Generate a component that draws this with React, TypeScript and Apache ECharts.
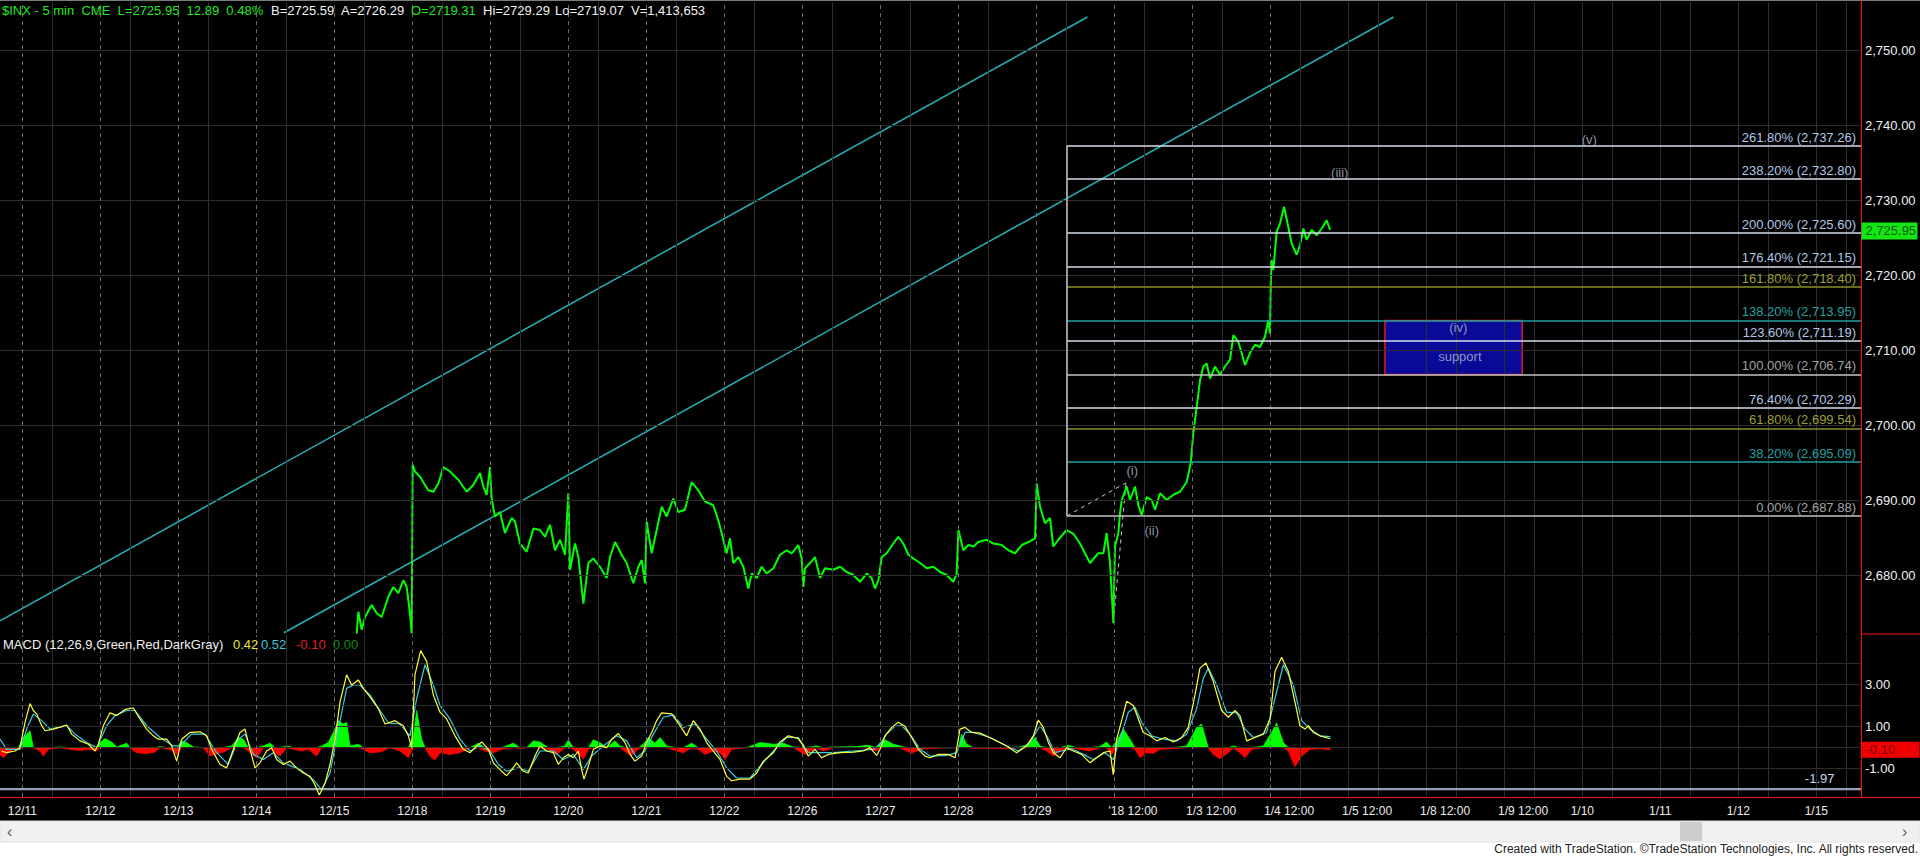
import React, { useEffect, useRef } from "react";
import * as echarts from "echarts";

const FONT = '"Liberation Sans", Arial, sans-serif';

// ---- axes ----
const X_MIN = -0.286;
const X_MAX = 23.573;
const PRICE_MIN = 2672.27;
const PRICE_MAX = 2756.4;
const MACD_MIN = -2.34;
const MACD_MAX = 5.34;

const PRICE_TICKS = [2680, 2690, 2700, 2710, 2720, 2730, 2740, 2750];
const MACD_TICKS = [3, 1, -1];
const MACD_GRID = [-2, -1, 0, 1, 2, 3, 4];
const MACD_FLOOR = -1.97;

const SESSION_STARTS = [0, 1, 2, 3, 4, 5, 6, 7, 8, 9, 10, 11, 12, 13, 14, 15, 16, 17, 18, 19, 20, 21, 22, 23];
const LAST_DATA_SESSION = 16;
const NOON = 0.385;

const DATE_TICK_POS = [0, 1, 2, 3, 4, 5, 6, 7, 8, 9, 10, 11, 12, 13, 14.24, 15.24, 16.24, 17.24, 18.24, 19.24, 20, 21, 22, 23];
const DATE_TICK_TEXT = ["12/11", "12/12", "12/13", "12/14", "12/15", "12/18", "12/19", "12/20", "12/21", "12/22", "12/26", "12/27", "12/28", "12/29", "'18 12:00", "1/3 12:00", "1/4 12:00", "1/5 12:00", "1/8 12:00", "1/9 12:00", "1/10", "1/11", "1/12", "1/15"];

// ---- price (x = trading-session index, y = price) ----
const PRICE_SERIES: [number, number][] = [
  [4.287, 2672.2], [4.308, 2675.1], [4.351, 2672.7], [4.394, 2674.4], [4.479, 2676.0], [4.543, 2674.9], [4.607, 2674.4], [4.693, 2677.1], [4.757, 2678.4], [4.821, 2677.6], [4.885, 2679.3], [4.928, 2678.4], [4.970, 2674.9], [4.992, 2672.2],
  [5.005, 2694.7], [5.035, 2693.8], [5.099, 2693.1], [5.163, 2692.0], [5.205, 2691.3], [5.270, 2691.1], [5.334, 2692.2], [5.398, 2694.4], [5.483, 2693.8], [5.590, 2692.7], [5.697, 2691.1], [5.782, 2692.0], [5.868, 2693.6], [5.911, 2691.8], [5.953, 2690.7], [5.996, 2694.4],
  [6.017, 2690.2], [6.060, 2687.8], [6.124, 2688.4], [6.188, 2685.6], [6.274, 2687.6], [6.317, 2687.1], [6.381, 2684.2], [6.466, 2683.1], [6.552, 2686.2], [6.637, 2686.0], [6.701, 2685.1], [6.765, 2686.7], [6.830, 2683.3], [6.894, 2684.7], [6.958, 2682.7],
  [7.000, 2690.9], [7.022, 2680.7], [7.086, 2684.2], [7.129, 2682.4], [7.193, 2676.2], [7.257, 2681.6], [7.321, 2682.2], [7.406, 2681.1], [7.492, 2679.6], [7.535, 2682.4], [7.599, 2684.4], [7.684, 2682.7], [7.748, 2681.6], [7.834, 2678.9], [7.898, 2681.1], [7.941, 2682.0], [7.983, 2678.9],
  [8.005, 2687.1], [8.069, 2682.9], [8.133, 2686.0], [8.197, 2689.1], [8.261, 2687.8], [8.346, 2690.2], [8.410, 2688.4], [8.496, 2688.7], [8.581, 2692.4], [8.667, 2691.3], [8.752, 2689.8], [8.859, 2689.3], [8.923, 2687.3], [8.987, 2684.7],
  [9.030, 2682.9], [9.073, 2684.9], [9.116, 2681.6], [9.180, 2682.4], [9.244, 2681.1], [9.308, 2678.2], [9.351, 2680.2], [9.415, 2679.6], [9.479, 2681.1], [9.543, 2680.2], [9.629, 2680.9], [9.714, 2682.7], [9.800, 2683.3], [9.864, 2682.9], [9.949, 2684.0], [9.992, 2682.2],
  [10.013, 2678.4], [10.035, 2680.9], [10.099, 2681.6], [10.163, 2682.4], [10.227, 2679.6], [10.291, 2680.9], [10.398, 2680.7], [10.484, 2681.1], [10.569, 2680.4], [10.654, 2680.0], [10.740, 2679.1], [10.825, 2680.2], [10.889, 2679.6], [10.932, 2678.2], [10.975, 2679.3],
  [11.018, 2682.4], [11.082, 2682.9], [11.167, 2684.2], [11.231, 2685.1], [11.295, 2684.2], [11.360, 2682.7], [11.424, 2682.2], [11.509, 2681.6], [11.595, 2680.9], [11.680, 2681.1], [11.766, 2680.4], [11.851, 2680.0], [11.937, 2679.1], [11.979, 2680.2],
  [12.001, 2686.0], [12.065, 2683.3], [12.129, 2684.0], [12.193, 2683.8], [12.257, 2684.4], [12.364, 2684.7], [12.449, 2684.2], [12.556, 2684.0], [12.642, 2683.3], [12.727, 2682.9], [12.813, 2684.0], [12.898, 2684.4], [12.984, 2684.9],
  [13.005, 2692.2], [13.048, 2689.1], [13.112, 2686.9], [13.176, 2687.6], [13.218, 2683.8], [13.282, 2684.7], [13.389, 2686.0], [13.475, 2685.5], [13.560, 2684.2], [13.688, 2681.6], [13.795, 2682.9], [13.860, 2682.9], [13.902, 2685.6], [13.945, 2681.6], [13.988, 2673.6],
  [14.009, 2683.8], [14.052, 2685.6], [14.073, 2688.2], [14.095, 2690.0], [14.159, 2691.8], [14.201, 2690.0], [14.266, 2691.8], [14.308, 2689.3], [14.351, 2688.0], [14.415, 2690.4], [14.479, 2690.0], [14.522, 2688.7], [14.586, 2690.9], [14.672, 2690.0], [14.757, 2690.7], [14.843, 2691.1], [14.928, 2692.4], [14.979, 2694.9],
  [15.013, 2698.9], [15.056, 2702.4], [15.099, 2706.0], [15.142, 2707.8], [15.184, 2708.2], [15.227, 2706.2], [15.291, 2707.8], [15.355, 2706.7], [15.419, 2707.8], [15.484, 2708.7], [15.526, 2712.0], [15.590, 2711.1], [15.633, 2709.6], [15.676, 2708.0], [15.740, 2709.6], [15.804, 2710.7], [15.868, 2710.4], [15.932, 2711.8], [15.975, 2714.0], [15.996, 2712.2],
  [16.005, 2718.4], [16.017, 2722.0], [16.039, 2720.7], [16.082, 2725.8], [16.125, 2726.9], [16.176, 2729.1], [16.231, 2726.4], [16.274, 2724.2], [16.338, 2722.7], [16.381, 2724.0], [16.424, 2726.2], [16.466, 2724.7], [16.530, 2726.0], [16.595, 2725.3], [16.659, 2726.2], [16.723, 2727.3], [16.766, 2726.0], [16.770, 2725.95],
];

// ---- MACD (12,26,9) ----
const MACD_SERIES: [number, number][] = [
  [-0.265, -0.16], [-0.201, -0.24], [-0.094, -0.16], [-0.030, 0.0], [0.035, 1.2], [0.099, 2.09], [0.141, 1.76], [0.184, 1.6], [0.248, 1.04], [0.291, 0.8], [0.398, 0.88], [0.569, 1.07], [0.633, 0.64], [0.740, 0.32], [0.847, 0.16], [0.932, -0.16], [0.975, 0.16],
  [1.039, 1.04], [1.124, 1.65], [1.210, 1.52], [1.317, 1.81], [1.423, 1.88], [1.509, 1.36], [1.594, 0.88], [1.680, 0.56], [1.744, 0.4], [1.851, 0.4], [1.915, 0.08], [1.979, -0.64],
  [2.043, 0.4], [2.150, 0.72], [2.278, 0.75], [2.364, 0.56], [2.428, -0.08], [2.535, -0.8], [2.620, -0.96], [2.706, -0.08], [2.791, 0.72], [2.855, 0.88], [2.919, -0.08], [2.983, -0.96],
  [3.047, -0.72], [3.133, -0.16], [3.197, 0.0], [3.261, -0.56], [3.346, -0.8], [3.432, -0.64], [3.517, -0.96], [3.603, -1.2], [3.688, -1.36], [3.752, -1.76], [3.808, -2.24], [3.881, -1.68], [3.945, -0.8],
  [4.009, 0.4], [4.073, 2.16], [4.158, 3.45], [4.222, 2.97], [4.308, 3.21], [4.372, 2.81], [4.458, 2.41], [4.564, 1.85], [4.650, 1.12], [4.778, 1.28], [4.885, 1.04], [4.949, 0.56], [4.992, 0.0],
  [5.034, 3.45], [5.107, 4.6], [5.184, 4.09], [5.270, 2.49], [5.355, 1.68], [5.440, 1.36], [5.547, 0.56], [5.654, -0.08], [5.740, -0.24], [5.804, 0], [5.889, 0.27], [5.975, -0.08],
  [6.039, -0.72], [6.124, -1.04], [6.210, -1.33], [6.274, -1.04], [6.338, -0.72], [6.423, -1.12], [6.487, -1.2], [6.573, -0.4], [6.637, 0.08], [6.723, -0.16], [6.808, -0.24], [6.872, -0.8], [6.936, -0.48],
  [7.000, -0.32], [7.064, -0.48], [7.128, -0.16], [7.171, -1.04], [7.201, -1.49], [7.257, -0.88], [7.321, -0.08], [7.406, 0.08], [7.492, 0], [7.556, 0.4], [7.641, 0.67], [7.727, 0.24], [7.791, -0.32], [7.855, -0.64], [7.940, -0.4],
  [8.005, 0.24], [8.069, 0.72], [8.133, 1.28], [8.197, 1.65], [8.325, 1.6], [8.432, 1.04], [8.517, 0.56], [8.603, 1.28], [8.688, 0.88], [8.774, 0.24], [8.859, -0.16], [8.945, -0.56],
  [9.030, -1.36], [9.094, -1.57], [9.201, -1.49], [9.329, -1.49], [9.415, -1.2], [9.500, -0.64], [9.629, -0.24], [9.714, 0.27], [9.821, 0.56], [9.949, 0.43],
  [10.013, 0.08], [10.077, -0.4], [10.163, -0.08], [10.248, -0.48], [10.334, -0.32], [10.483, -0.24], [10.654, -0.21], [10.782, -0.16], [10.868, 0], [10.953, -0.37],
  [10.996, -0.08], [11.060, 0.56], [11.146, 0.96], [11.231, 1.2], [11.317, 1.01], [11.402, 0.48], [11.487, -0.08], [11.573, -0.4], [11.637, -0.48], [11.744, -0.32], [11.872, -0.32], [11.958, -0.48],
  [12.022, 0.88], [12.086, 0.96], [12.171, 0.72], [12.278, 0.69], [12.449, 0.4], [12.620, 0.08], [12.748, -0.24], [12.876, 0.08], [12.962, 0.56],
  [13.026, 1.31], [13.090, 0.96], [13.154, 0.24], [13.218, -0.24], [13.304, -0.48], [13.389, 0], [13.475, -0.16], [13.581, -0.32], [13.688, -0.72], [13.774, -0.48], [13.859, -0.24], [13.945, -0.16], [13.987, -1.28],
  [14.030, 0.4], [14.094, 1.28], [14.158, 2.2], [14.244, 2.0], [14.308, 1.36], [14.372, 0.72], [14.458, 0.56], [14.543, 0.32], [14.650, 0.48], [14.757, 0.27], [14.864, 0.48], [14.949, 0.96],
  [15.034, 2.49], [15.098, 3.77], [15.175, 4.01], [15.269, 3.13], [15.376, 1.76], [15.462, 1.44], [15.547, 1.76], [15.611, 1.52], [15.697, 0.32], [15.804, 0.48], [15.910, 0.64], [15.996, 1.36],
  [16.060, 3.61], [16.145, 4.28], [16.231, 3.61], [16.316, 2.16], [16.380, 1.04], [16.445, 0.88], [16.487, 1.04], [16.552, 0.72], [16.637, 0.56], [16.770, 0.42],
];

const SIGNAL_SERIES: [number, number][] = [
  [-0.286, 0.4], [-0.201, -0.08], [-0.030, -0.08], [0.056, 0.88], [0.141, 1.6], [0.248, 1.28], [0.355, 0.88], [0.569, 1.04], [0.676, 0.64], [0.825, 0.24], [0.953, 0.0],
  [1.082, 1.04], [1.188, 1.52], [1.338, 1.76], [1.445, 1.76], [1.594, 1.04], [1.765, 0.48], [1.936, 0.08],
  [2.022, 0.08], [2.171, 0.64], [2.342, 0.64], [2.492, -0.24], [2.641, -0.8], [2.770, 0.4], [2.855, 0.64], [2.962, -0.32],
  [3.090, -0.56], [3.218, -0.24], [3.346, -0.72], [3.560, -1.04], [3.731, -1.52], [3.838, -2.0], [3.945, -1.2],
  [4.052, 0.88], [4.158, 2.81], [4.244, 2.97], [4.329, 2.97], [4.458, 2.49], [4.586, 1.76], [4.693, 1.17], [4.842, 1.12], [4.970, 0.56],
  [5.056, 2.33], [5.163, 3.93], [5.270, 2.97], [5.355, 2.0], [5.483, 1.36], [5.611, 0.4], [5.740, -0.16], [5.868, 0.08], [5.996, -0.16],
  [6.103, -0.8], [6.210, -1.12], [6.359, -0.96], [6.487, -1.12], [6.637, -0.16], [6.808, -0.16], [6.936, -0.56],
  [7.064, -0.32], [7.193, -1.04], [7.299, -0.4], [7.449, 0.08], [7.620, 0.56], [7.748, 0.32], [7.876, -0.48], [7.983, -0.16],
  [8.090, 0.64], [8.218, 1.44], [8.347, 1.55], [8.475, 0.96], [8.624, 1.12], [8.774, 0.4], [8.902, -0.16],
  [9.030, -0.96], [9.158, -1.44], [9.329, -1.44], [9.479, -0.8], [9.629, -0.16], [9.799, 0.48], [9.949, 0.48],
  [10.077, -0.24], [10.227, -0.24], [10.397, -0.24], [10.654, -0.16], [10.911, -0.08],
  [10.996, 0.16], [11.081, 0.64], [11.188, 1.01], [11.274, 1.04], [11.381, 0.64], [11.509, -0.08], [11.637, -0.4], [11.851, -0.37], [11.979, -0.24],
  [12.086, 0.72], [12.193, 0.72], [12.406, 0.48], [12.620, 0.08], [12.769, -0.16], [12.919, 0.24],
  [13.047, 1.04], [13.133, 0.56], [13.240, -0.24], [13.325, -0.16], [13.453, -0.05], [13.603, -0.32], [13.731, -0.56], [13.880, -0.24], [13.987, -0.56],
  [14.073, 0.4], [14.180, 1.68], [14.265, 1.92], [14.351, 1.2], [14.479, 0.56], [14.629, 0.4], [14.800, 0.32], [14.928, 0.64],
  [15.056, 1.85], [15.141, 3.29], [15.205, 3.77], [15.312, 2.97], [15.440, 1.68], [15.569, 1.65], [15.676, 0.88], [15.782, 0.48], [15.953, 0.72],
  [16.060, 2.33], [16.167, 3.93], [16.295, 2.97], [16.402, 1.28], [16.509, 0.88], [16.637, 0.56], [16.770, 0.52],
];

const HIST_SERIES: [number, number][] = [
  [-0.286, -0.32], [-0.243, -0.48], [-0.158, -0.16], [-0.051, 0], [0.013, 0.48], [0.099, 0.8], [0.141, 0], [0.227, -0.16], [0.270, -0.4], [0.334, -0.08], [0.483, 0.03], [0.611, -0.08], [0.740, -0.13], [0.868, -0.08], [0.953, -0.16],
  [0.996, 0.24], [1.060, 0.43], [1.146, 0.27], [1.210, 0.03], [1.338, 0.21], [1.381, 0], [1.466, -0.24], [1.594, -0.29], [1.701, -0.21], [1.765, 0.05], [1.851, -0.05], [1.936, -0.16], [1.979, -0.32],
  [2.043, 0.32], [2.107, 0.24], [2.193, 0.03], [2.321, 0], [2.406, -0.4], [2.470, -0.32], [2.577, -0.21], [2.684, 0.08], [2.770, 0.48], [2.834, 0.4], [2.898, -0.16],
  [3.005, -0.48], [3.090, 0.08], [3.176, 0.21], [3.240, -0.24], [3.304, -0.4], [3.389, 0.08], [3.475, -0.08], [3.582, -0.16], [3.667, -0.08], [3.774, -0.4], [3.838, 0.08], [3.923, 0.24], [3.987, 0.72],
  [4.052, 1.28], [4.116, 1.12], [4.158, 1.2], [4.201, 0.08], [4.308, 0.16], [4.372, -0.08], [4.458, -0.24], [4.586, -0.21], [4.714, 0], [4.842, -0.16], [4.949, -0.48],
  [5.013, 0.56], [5.056, 1.76], [5.120, 0.4], [5.163, 0], [5.227, -0.4], [5.291, -0.59], [5.355, -0.24], [5.483, -0.32], [5.611, -0.24], [5.740, 0], [5.846, 0.21], [5.932, -0.16],
  [6.039, -0.24], [6.146, -0.08], [6.295, 0.21], [6.381, -0.05], [6.466, 0], [6.552, 0.32], [6.637, 0.27], [6.744, -0.08], [6.851, -0.32], [6.958, 0.08],
  [7.000, 0.37], [7.064, -0.08], [7.193, -0.53], [7.257, -0.08], [7.321, 0.37], [7.406, 0.24], [7.492, 0], [7.599, 0.32], [7.663, 0.08], [7.748, -0.24], [7.812, -0.37], [7.898, -0.08], [7.962, 0.16],
  [8.026, 0.48], [8.111, 0.21], [8.176, 0.48], [8.261, 0.08], [8.389, -0.16], [8.475, -0.24], [8.582, 0.21], [8.667, -0.08], [8.753, -0.32], [8.859, -0.16], [8.945, -0.24],
  [9.009, -0.56], [9.094, -0.08], [9.287, 0], [9.458, 0.24], [9.629, 0.16], [9.757, 0.21], [9.885, 0.03],
  [10.035, -0.32], [10.184, 0.08], [10.270, -0.16], [10.397, 0.03], [10.697, 0.05], [10.846, 0.11], [10.953, -0.16],
  [10.996, 0.24], [11.060, 0.37], [11.167, 0.16], [11.252, 0.08], [11.338, -0.16], [11.402, -0.27], [11.509, -0.08], [11.594, -0.05], [11.851, 0],
  [12.000, 0], [12.043, 0.64], [12.107, 0.16], [12.193, -0.03], [12.364, -0.03], [12.620, -0.05], [12.791, 0.03], [12.898, 0.16], [12.983, 0.48],
  [13.047, 0.08], [13.133, -0.16], [13.218, -0.4], [13.304, -0.16], [13.410, 0.11], [13.517, -0.05], [13.688, -0.16], [13.816, 0.05], [13.902, 0.27], [13.966, -0.32],
  [14.030, 0.32], [14.116, 0.88], [14.201, 0.4], [14.265, -0.08], [14.329, -0.48], [14.415, -0.24], [14.500, -0.27], [14.586, -0.08], [14.757, -0.05], [14.928, 0.08],
  [15.056, 0.96], [15.120, 1.12], [15.205, 0], [15.269, -0.32], [15.355, -0.53], [15.462, -0.24], [15.526, 0.08], [15.611, -0.24], [15.676, -0.48], [15.761, -0.08], [15.910, 0.08],
  [16.017, 0.72], [16.081, 1.17], [16.167, 0.24], [16.231, -0.16], [16.316, -0.91], [16.402, -0.4], [16.509, -0.08], [16.637, -0.05], [16.770, -0.10],
];

// ---- drawings ----
const CHANNEL_UPPER: [number, number][] = [[-0.286, 2673.9], [13.655, 2754.4]];
const CHANNEL_LOWER: [number, number][] = [[3.355, 2672.3], [17.58, 2754.4]];

const FIB_START = 13.394;
const FIB_PCT = [261.8, 238.2, 200, 176.4, 161.8, 138.2, 123.6, 100, 76.4, 61.8, 38.2, 0];
const FIB_PRICE = [2737.26, 2732.8, 2725.6, 2721.15, 2718.4, 2713.95, 2711.19, 2706.74, 2702.29, 2699.54, 2695.09, 2687.88];
const FIB_TONE = ["light", "light", "light", "light", "olive", "teal", "light", "grey", "light", "olive", "teal", "grey"];

const FIB_LEG_A: [number, number][] = [[13.988, 2673.6], [14.15, 2692.3]];
const FIB_LEG_C: [number, number][] = [[FIB_START, 2687.88], [14.15, 2692.3]];

const SUPPORT_X = [17.47, 19.23];
const SUPPORT_Y = [2713.95, 2706.74];

const WAVE_POS: [number, number][] = [[14.23, 2693.9], [14.48, 2685.9], [16.89, 2733.7], [18.41, 2713.0], [20.09, 2738.1], [18.43, 2709.1]];
const WAVE_TEXT = ["(i)", "(ii)", "(iii)", "(iv)", "(v)", "support"];

const HEADER = [
  { text: "$INX - 5 min  CME  L=2725.95  12.89  0.48%", x: 2, color: "#22e622" },
  { text: "B=2725.59", x: 271, color: "#f2f2f2" },
  { text: "A=2726.29", x: 341, color: "#f2f2f2" },
  { text: "O=2719.31", x: 411, color: "#22e622" },
  { text: "Hi=2729.29", x: 483, color: "#f2f2f2" },
  { text: "Lo=2719.07", x: 555, color: "#f2f2f2" },
  { text: "V=1,413,653", x: 631, color: "#f2f2f2" },
];

const TONES: Record<string, { line: string; text: string }> = {
  light: { line: "#d4dcec", text: "#b4c6e6" },
  olive: { line: "#8c8c2a", text: "#9e9e38" },
  teal: { line: "#20a0a0", text: "#24a0a0" },
  grey: { line: "#c4c4c4", text: "#a2a2a2" },
};

const fmt2 = (v: number) =>
  v.toLocaleString("en-US", { minimumFractionDigits: 2, maximumFractionDigits: 2 });

function gridLines(horizontal: number[]) {
  const data: any[] = [];
  horizontal.forEach((v) => data.push({ yAxis: v, lineStyle: { color: "#2e2e2e", width: 1, type: "solid" } }));
  SESSION_STARTS.forEach((d) => {
    data.push({ xAxis: d + NOON, lineStyle: { color: "#2e2e2e", width: 1, type: "solid" } });
    if (d <= LAST_DATA_SESSION) {
      data.push({ xAxis: d, lineStyle: { color: "#6a6a6a", width: 1, type: [4, 4] } });
    } else {
      data.push({ xAxis: d, lineStyle: { color: "#2e2e2e", width: 1, type: "solid" } });
    }
  });
  return data;
}

function buildOption(): any {
  const fibLines: any[] = FIB_PRICE.map((v, i) => {
    const tone = TONES[FIB_TONE[i]];
    return [
      {
        coord: [FIB_START, v],
        lineStyle: { color: tone.line, width: 1.5, type: "solid" },
        label: {
          show: true,
          position: "insideEndTop",
          distance: [5, 2],
          formatter: `${FIB_PCT[i].toFixed(2)}% (${fmt2(v)})`,
          color: tone.text,
          fontSize: 13,
          fontFamily: FONT,
        },
      },
      { coord: [X_MAX, v] },
    ];
  });
  fibLines.push([
    { coord: [FIB_START, FIB_PRICE[FIB_PRICE.length - 1]], lineStyle: { color: "#c4c4c4", width: 1.5, type: "solid" }, label: { show: false } },
    { coord: [FIB_START, FIB_PRICE[0]] },
  ]);

  return {
    animation: false,
    backgroundColor: "#000000",
    grid: [
      { left: 0, right: 59, top: 2, height: 631, containLabel: false },
      { left: 0, right: 59, top: 635, height: 162, containLabel: false },
    ],
    xAxis: [
      {
        type: "value", gridIndex: 0, min: X_MIN, max: X_MAX,
        axisLine: { show: false }, axisTick: { show: false }, axisLabel: { show: false }, splitLine: { show: false },
      },
      {
        type: "value", gridIndex: 1, min: X_MIN, max: X_MAX,
        axisLine: { show: false }, axisTick: { show: false }, splitLine: { show: false },
        axisLabel: {
          show: true,
          customValues: DATE_TICK_POS,
          margin: 8,
          color: "#ececec",
          fontSize: 12,
          fontFamily: FONT,
          formatter: (v: number) => {
            for (let i = 0; i < DATE_TICK_POS.length; i++) {
              if (Math.abs(DATE_TICK_POS[i] - v) < 1e-6) return DATE_TICK_TEXT[i];
            }
            return "";
          },
        },
      },
    ],
    yAxis: [
      {
        type: "value", gridIndex: 0, position: "right", min: PRICE_MIN, max: PRICE_MAX,
        axisLine: { show: false }, splitLine: { show: false },
        axisTick: { show: true, customValues: PRICE_TICKS, length: 3, lineStyle: { color: "#bdbdbd" } },
        axisLabel: {
          customValues: PRICE_TICKS, margin: 4, color: "#f0f0f0", fontSize: 13, fontFamily: FONT,
          formatter: (v: number) => fmt2(v),
        },
      },
      {
        type: "value", gridIndex: 1, position: "right", min: MACD_MIN, max: MACD_MAX,
        axisLine: { show: false }, splitLine: { show: false },
        axisTick: { show: true, customValues: MACD_TICKS, length: 3, lineStyle: { color: "#bdbdbd" } },
        axisLabel: {
          customValues: MACD_TICKS, margin: 4, color: "#f0f0f0", fontSize: 13, fontFamily: FONT,
          formatter: (v: number) => v.toFixed(2),
        },
      },
    ],
    series: [
      {
        name: "priceGrid", type: "line", xAxisIndex: 0, yAxisIndex: 0, data: [], z: 1, silent: true,
        markLine: { silent: true, symbol: ["none", "none"], label: { show: false }, data: gridLines(PRICE_TICKS) },
      },
      {
        name: "macdGrid", type: "line", xAxisIndex: 1, yAxisIndex: 1, data: [], z: 1, silent: true,
        markLine: {
          silent: true, symbol: ["none", "none"], label: { show: false },
          data: [
            ...gridLines(MACD_GRID),
            { yAxis: MACD_FLOOR, lineStyle: { color: "#c6d6f0", width: 1.5, type: "solid" } },
          ],
        },
      },
      {
        name: "support", type: "line", xAxisIndex: 0, yAxisIndex: 0, data: [], z: 2, silent: true,
        markArea: {
          silent: true,
          data: [[
            { coord: [SUPPORT_X[0], SUPPORT_Y[0]], itemStyle: { color: "#0a0a98", borderColor: "#d81c1c", borderWidth: 1.5 } },
            { coord: [SUPPORT_X[1], SUPPORT_Y[1]] },
          ]],
        },
      },
      {
        name: "fib", type: "line", xAxisIndex: 0, yAxisIndex: 0, data: [], z: 3, silent: true,
        markLine: { silent: true, symbol: ["none", "none"], data: fibLines },
      },
      {
        name: "channelUpper", type: "line", xAxisIndex: 0, yAxisIndex: 0, data: CHANNEL_UPPER, z: 3,
        showSymbol: false, silent: true, lineStyle: { color: "#26b2b2", width: 1.5 },
      },
      {
        name: "channelLower", type: "line", xAxisIndex: 0, yAxisIndex: 0, data: CHANNEL_LOWER, z: 3,
        showSymbol: false, silent: true, lineStyle: { color: "#26b2b2", width: 1.5 },
      },
      {
        name: "legA", type: "line", xAxisIndex: 0, yAxisIndex: 0, data: FIB_LEG_A, z: 3,
        showSymbol: false, silent: true, lineStyle: { color: "#c8c8c8", width: 1, type: [4, 4] },
      },
      {
        name: "legC", type: "line", xAxisIndex: 0, yAxisIndex: 0, data: FIB_LEG_C, z: 3,
        showSymbol: false, silent: true, lineStyle: { color: "#c8c8c8", width: 1, type: [4, 4] },
      },
      {
        name: "$INX", type: "line", xAxisIndex: 0, yAxisIndex: 0, data: PRICE_SERIES, z: 4,
        showSymbol: false, silent: true, lineStyle: { color: "#00ff00", width: 2 },
      },
      {
        name: "waves", type: "scatter", xAxisIndex: 0, yAxisIndex: 0, data: WAVE_POS, z: 5,
        symbolSize: 0, silent: true,
        label: {
          show: true, position: "inside", fontSize: 13, fontFamily: FONT,
          formatter: (p: any) => WAVE_TEXT[p.dataIndex],
          color: "#b4bccc",
        },
      },
      {
        name: "histPos", type: "line", xAxisIndex: 1, yAxisIndex: 1, z: 3, silent: true, showSymbol: false,
        data: HIST_SERIES.map(([t, h]) => [t, Math.max(h, 0)]),
        lineStyle: { width: 0.8, color: "#00ff00" }, areaStyle: { color: "#00ff00", opacity: 1 },
      },
      {
        name: "histNeg", type: "line", xAxisIndex: 1, yAxisIndex: 1, z: 3, silent: true, showSymbol: false,
        data: HIST_SERIES.map(([t, h]) => [t, Math.min(h, 0)]),
        lineStyle: { width: 0.8, color: "#ff0000" }, areaStyle: { color: "#ff0000", opacity: 1 },
      },
      {
        name: "signal", type: "line", xAxisIndex: 1, yAxisIndex: 1, data: SIGNAL_SERIES, z: 4,
        showSymbol: false, silent: true, lineStyle: { color: "#38cde0", width: 1.2 },
      },
      {
        name: "macd", type: "line", xAxisIndex: 1, yAxisIndex: 1, data: MACD_SERIES, z: 5,
        showSymbol: false, silent: true, lineStyle: { color: "#ffff38", width: 1.2 },
      },
    ],
  };
}

function txt(text: string, x: number, y: number, fill: string, size = 13, align = "left", family = FONT, z = 110): any {
  return {
    type: "text", z, silent: true,
    style: { text, x, y, fill, fontSize: size, fontFamily: family, align, verticalAlign: "middle", textAlign: align, textVerticalAlign: "middle" },
  };
}

function buildGraphics(chart: any): any[] {
  const lastPrice = PRICE_SERIES[PRICE_SERIES.length - 1][1];
  const lastMacd = MACD_SERIES[MACD_SERIES.length - 1][1];
  const lastSignal = SIGNAL_SERIES[SIGNAL_SERIES.length - 1][1];
  const lastHist = HIST_SERIES[HIST_SERIES.length - 1][1];
  const [axisX, yPrice] = chart.convertToPixel({ gridIndex: 0 }, [X_MAX, lastPrice]);
  const [, yHist] = chart.convertToPixel({ gridIndex: 1 }, [X_MAX, lastHist]);
  const [, yFloor] = chart.convertToPixel({ gridIndex: 1 }, [X_MAX, MACD_FLOOR]);
  const [, macdBottom] = chart.convertToPixel({ gridIndex: 1 }, [X_MAX, MACD_MIN]);
  const [, macdTop] = chart.convertToPixel({ gridIndex: 1 }, [X_MAX, MACD_MAX]);
  const ax = Math.round(axisX) + 0.5;

  const g: any[] = [];
  g.push({ type: "rect", z: 100, silent: true, shape: { x: 0, y: 0, width: 1920, height: 1 }, style: { fill: "#7c7c7c" } });
  HEADER.forEach((h) => g.push(txt(h.text, h.x, 10, h.color)));

  // MACD header
  g.push(txt("MACD (12,26,9,Green,Red,DarkGray)", 3, 644, "#f0f0f0"));
  g.push(txt(lastMacd.toFixed(2), 233, 644, "#e8e830"));
  g.push(txt(lastSignal.toFixed(2), 261, 644, "#3ec6dc"));
  g.push(txt(lastHist.toFixed(2), 296, 644, "#e02020"));
  g.push(txt((0).toFixed(2), 333, 644, "#128a12"));

  // axis frame
  g.push({ type: "line", z: 100, silent: true, shape: { x1: ax, y1: 0, x2: ax, y2: macdBottom }, style: { stroke: "#ff1010", lineWidth: 1 } });
  g.push({ type: "line", z: 100, silent: true, shape: { x1: ax, y1: macdTop - 1, x2: 1920, y2: macdTop - 1 }, style: { stroke: "#ff1010", lineWidth: 1 } });
  g.push({ type: "line", z: 100, silent: true, shape: { x1: 0, y1: Math.round(macdBottom) + 0.5, x2: 1920, y2: Math.round(macdBottom) + 0.5 }, style: { stroke: "#ff1010", lineWidth: 1.2 } });

  // last price badge
  g.push({ type: "rect", z: 101, silent: true, shape: { x: ax, y: yPrice - 8, width: 56, height: 17 }, style: { fill: "#14e614" } });
  g.push(txt(fmt2(lastPrice), ax + 4, yPrice + 0.5, "#0b5a0b", 13, "left", FONT, 120));
  // last histogram badge
  g.push({ type: "rect", z: 101, silent: true, shape: { x: ax, y: yHist - 8, width: 58, height: 16 }, style: { fill: "#f00000" } });
  g.push(txt(lastHist.toFixed(2), ax + 4, yHist, "#7a0000", 13, "left", FONT, 120));
  // floor label
  g.push(txt(MACD_FLOOR.toFixed(2), ax - 27, yFloor - 11, "#c6d6f0", 13, "right"));

  // scrollbar and footer
  g.push({ type: "rect", z: 100, silent: true, shape: { x: 0, y: 821, width: 1920, height: 35 }, style: { fill: "#ffffff" } });
  g.push({ type: "rect", z: 101, silent: true, shape: { x: 0, y: 821, width: 1920, height: 21 }, style: { fill: "#f0f0f0", stroke: "#e2e2e2", lineWidth: 1 } });
  g.push({ type: "rect", z: 102, silent: true, shape: { x: 1680, y: 822, width: 22, height: 19 }, style: { fill: "#cdcdcd" } });
  g.push(txt("\u2039", 7, 831, "#606060", 16, "left", FONT, 120));
  g.push(txt("\u203A", 1902, 831, "#606060", 16, "left", FONT, 120));
  g.push(txt("Created with TradeStation. \u00A9TradeStation Technologies, Inc. All rights reserved.", 1918, 849, "#202020", 12, "right", '"Liberation Sans Narrow", "Liberation Sans", Arial, sans-serif', 120));
  return g;
}

export default function App() {
  const ref = useRef<HTMLDivElement>(null);
  useEffect(() => {
    const el = ref.current;
    if (!el) return;
    const chart = echarts.init(el, null, { renderer: "svg" });
    chart.setOption(buildOption());
    chart.setOption({ graphic: buildGraphics(chart) });
    return () => chart.dispose();
  }, []);
  return <div ref={ref} style={{ position: "fixed", left: 0, top: 0, width: 1920, height: 856 }} />;
}
